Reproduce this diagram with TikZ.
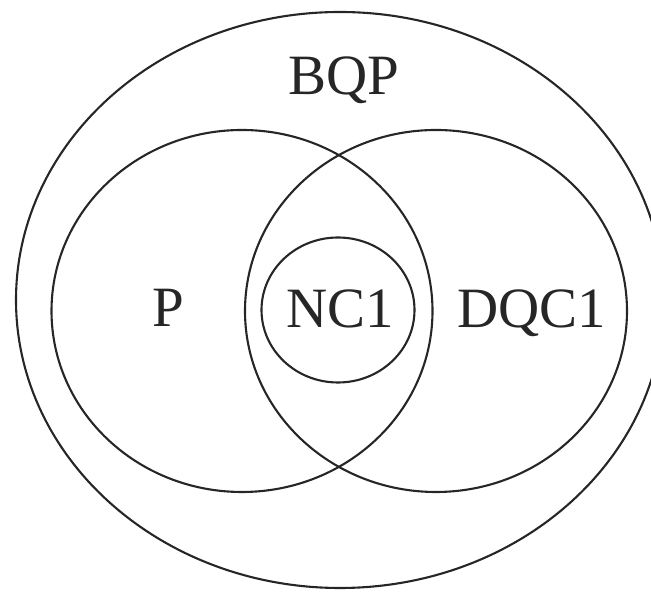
\documentclass[tikz,border=0pt]{standalone}
\usepackage{fontspec}
\setmainfont{Liberation Serif}
\usetikzlibrary{shapes.geometric}
\begin{document}
\begin{tikzpicture}[x=1pt,y=1pt,
  setshape/.style={ellipse,draw=black!85,line width=2.1pt,inner sep=0pt},
  setlabel/.style={anchor=base,inner sep=0pt,text=black!85,font=\fontsize{57}{62}\selectfont}]
\useasboundingbox (0,0) rectangle (651,596);
\clip (0,0) rectangle (651,596);
\node[setshape,minimum width=648,minimum height=576] (bqp) at (340,296) {};
\node[setshape,minimum width=381,minimum height=362] (p) at (242,285) {};
\node[setshape,minimum width=382,minimum height=362] (dqc) at (436,285) {};
\node[setshape,minimum width=153,minimum height=145] (nc) at (338,286) {};
\node[setlabel] (lbqp) at (344,501) {BQP};
\node[setlabel] (lp) at (168,269) {P};
\node[setlabel] (lnc) at (340,268) {NC1};
\node[setlabel] (ldqc) at (532,268) {DQC1};
\end{tikzpicture}
\end{document}
